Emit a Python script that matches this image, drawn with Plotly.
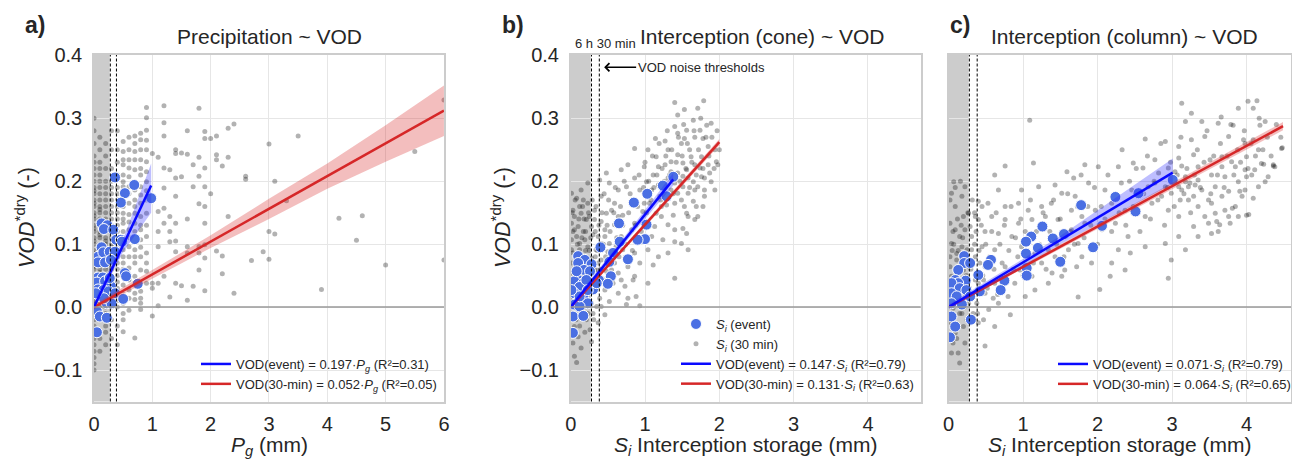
import plotly.graph_objects as go

W, H = 1292, 460
FONT = "Liberation Sans, Arial, sans-serif"
TXT = "#262626"

# ------------------------------------------------------------------ data
# Panel a: precipitation (events)
pg_event = [(0.36,0.206),(0.69,0.194),(0.53,0.181),(0.46,0.166),(0.98,0.173),(0.13,0.133),(0.23,0.130),
            (0.17,0.124),(0.33,0.123),(0.38,0.107),(0.46,0.107),(0.70,0.108),(0.48,0.104),(0.13,0.095),
            (0.07,0.080),(0.16,0.087),(0.27,0.088),(0.36,0.088),(0.07,0.071),(0.19,0.071),(0.29,0.075),
            (0.53,0.054),(0.55,0.049),(0.07,0.047),(0.15,0.047),(0.05,0.039),(0.19,0.041),(0.75,0.037),
            (0.29,0.033),(0.07,0.028),(0.16,0.027),(0.25,0.025),(0.36,0.022),(0.10,0.017),(0.50,0.013),
            (0.22,0.006),(0.30,0.006),(0.05,-0.007),(0.10,-0.015),(0.22,-0.017),(0.05,-0.040),(0.17,0.014),
            (0.03,0.022),(0.27,0.046)]
# Panel a: precipitation (30 min) - quantised columns at 0.1 mm steps
pg_col_x = [0.0, 0.1, 0.2, 0.3, 0.4, 0.5, 0.6, 0.7, 0.8, 0.9]
pg_col_y = [
    [-0.10,-0.09,-0.08,-0.07,-0.06,-0.05,-0.045,-0.03,-0.02,-0.015,0.0,0.005,0.01,0.02,0.025,0.03,0.04,0.045,
     0.05,0.06,0.065,0.07,0.08,0.085,0.09,0.10,0.105,0.11,0.12,0.125,0.13,0.14,0.145,0.15,0.16,0.165,0.17,
     0.18,0.185,0.19,0.20,0.21,0.22,0.23,0.24,0.26,0.28,0.30],
    [-0.07,-0.05,-0.04,-0.02,-0.01,0.0,0.01,0.015,0.02,0.03,0.035,0.04,0.05,0.055,0.06,0.07,0.075,0.08,0.09,
     0.095,0.10,0.11,0.115,0.12,0.13,0.135,0.14,0.15,0.155,0.16,0.17,0.18,0.19,0.20,0.21,0.22,0.23,0.25,0.27],
    [-0.06,-0.04,-0.03,-0.01,0.0,0.015,0.02,0.03,0.04,0.045,0.05,0.06,0.065,0.07,0.08,0.085,0.09,0.10,0.105,
     0.11,0.12,0.125,0.13,0.14,0.15,0.16,0.17,0.18,0.19,0.20,0.22,0.24,0.26],
    [-0.05,-0.02,0.0,0.01,0.02,0.03,0.04,0.05,0.06,0.065,0.07,0.08,0.09,0.095,0.10,0.11,0.12,0.13,0.14,0.15,
     0.16,0.17,0.18,0.19,0.20,0.22,0.25,0.28],
    [-0.06,-0.03,0.0,0.01,0.03,0.04,0.05,0.06,0.07,0.08,0.085,0.09,0.10,0.11,0.12,0.13,0.14,0.15,0.16,0.17,
     0.18,0.19,0.21,0.23,0.25,0.28],
    [0.263,0.247,0.234,0.226,0.210,0.199,0.191,0.181,0.170,0.160,0.149,0.140,0.133,0.120,0.105,0.091,0.080,
     0.070,0.060,0.049,0.035,0.020,0.006,-0.010,-0.020,-0.039],
    [0.270,0.250,0.234,0.221,0.207,0.191,0.180,0.165,0.147,0.135,0.123,0.110,0.096,0.080,0.062,0.043,0.027,
     0.014,-0.005],
    [0.272,0.260,0.247,0.234,0.218,0.199,0.186,0.170,0.160,0.149,0.133,0.120,0.112,0.091,0.080,0.070,0.049,
     0.038,0.022,0.012,-0.049],
    [0.276,0.266,0.250,0.234,0.220,0.210,0.191,0.178,0.165,0.144,0.130,0.123,0.107,0.095,0.080,0.059,0.038,
     0.025,0.014,0.006,-0.004],
    [0.317,0.301,0.281,0.265,0.250,0.231,0.215,0.199,0.185,0.170,0.149,0.130,0.112,0.086,0.070,0.057,0.038],
]
pg_sparse = [(1.2,0.320),(1.8,0.316),(1.2,0.293),(1.6,0.280),(1.9,0.279),(2.4,0.291),(2.3,0.284),(2.1,0.272),
             (2.0,0.268),(1.9,0.268),(1.2,0.272),(1.4,0.250),(1.5,0.245),(1.4,0.244),(1.6,0.243),(1.8,0.238),
             (2.1,0.242),(2.3,0.238),(1.1,0.238),(1.0,0.244),(3.0,0.259),(3.5,0.272),(5.5,0.247),(6.0,0.329),
             (2.6,0.208),(2.6,0.203),(3.1,0.200),(3.3,0.169),(2.1,0.234),(1.9,0.221),(2.2,0.224),(1.7,0.226),
             (1.3,0.218),(1.2,0.221),(1.4,0.205),(1.8,0.208),(1.5,0.207),(2.0,0.180),(1.4,0.176),(1.8,0.164),
             (1.9,0.191),(1.7,0.191),(1.2,0.189),(1.9,0.160),(1.6,0.140),(1.2,0.157),(1.1,0.152),(1.3,0.144),
             (2.3,0.144),(1.9,0.133),(1.4,0.133),(1.2,0.133),(1.3,0.120),(1.1,0.120),(1.1,0.096),(1.3,0.104),
             (1.4,0.105),(1.6,0.096),(1.8,0.096),(1.9,0.099),(2.1,0.089),(2.2,0.081),(1.9,0.078),(1.8,0.086),
             (1.6,0.086),(1.4,0.088),(2.9,0.088),(3.0,0.120),(3.1,0.116),(3.0,0.076),(2.7,0.074),(4.2,0.141),
             (4.6,0.145),(4.5,0.106),(5.0,0.067),(3.9,0.028),(2.4,0.022),(2.2,0.053),(1.9,0.026),(1.8,0.059),
             (1.7,0.033),(1.5,0.034),(1.4,0.038),(1.1,0.038),(1.2,0.049),(1.0,0.038),(1.0,0.030),(1.1,0.002),
             (1.0,-0.014),(1.6,0.011),(1.3,0.016),(6.0,0.075)]

# Panel b: interception storage, cone
si_cone_event = [(1.38,0.207),(1.24,0.193),(1.03,0.180),(1.29,0.176),(0.85,0.166),(1.02,0.131),(0.65,0.133),
                 (1.00,0.108),(0.90,0.107),(0.66,0.104),(0.77,0.076),(0.57,0.086),(0.40,0.095),(0.52,0.072),
                 (0.10,0.081),(0.19,0.075),(0.28,0.068),(0.10,0.070),(0.18,0.059),(0.26,0.057),(0.54,0.049),
                 (0.38,0.043),(0.10,0.043),(0.05,0.041),(0.17,0.038),(0.50,0.037),(0.30,0.028),(0.12,0.032),
                 (0.05,0.022),(0.17,0.017),(0.23,0.006),(0.05,0.004),(0.12,0.001),(0.03,-0.015),(0.17,-0.014),
                 (0.03,-0.041),(0.35,0.038),(0.08,0.057),(0.21,0.043),(0.12,0.017),(0.01,0.027),(0.23,0.027)]
si_cone_30min = [(1.40,0.325),(1.79,0.328),(1.53,0.314),(1.71,0.316),(1.44,0.305),(1.65,0.297),(1.83,0.289),
    (1.89,0.292),(1.56,0.281),(1.40,0.287),(1.14,0.268),(1.27,0.264),(1.67,0.270),(1.78,0.268),(1.49,0.260),
    (1.85,0.255),(1.94,0.250),(1.31,0.250),(1.60,0.250),(1.44,0.242),(1.76,0.239),(1.15,0.239),(0.77,0.226),
    (0.99,0.223),(1.27,0.226),(1.51,0.229),(1.67,0.226),(1.85,0.226),(1.96,0.231),(0.68,0.218),(0.86,0.205),
    (1.11,0.210),(1.44,0.213),(1.58,0.205),(1.76,0.207),(1.89,0.199),(0.52,0.197),(0.64,0.186),(0.75,0.191),
    (0.93,0.186),(1.18,0.194),(1.35,0.186),(1.51,0.191),(1.67,0.186),(1.80,0.186),(0.41,0.176),(0.59,0.165),
    (0.82,0.168),(1.06,0.165),(1.29,0.162),(1.49,0.170),(1.65,0.168),(1.78,0.160),(0.23,0.165),(0.12,0.160),
    (0.32,0.154),(0.48,0.149),(0.70,0.146),(0.97,0.152),(1.15,0.149),(1.38,0.146),(1.56,0.149),(1.71,0.144),
    (0.05,0.144),(0.21,0.139),(0.41,0.136),(0.59,0.131),(0.86,0.133),(1.13,0.128),(1.31,0.131),(1.51,0.125),
    (0.05,0.123),(0.17,0.120),(0.30,0.115),(0.46,0.112),(0.68,0.112),(1.09,0.112),(1.24,0.107),(1.40,0.104),
    (1.58,0.091),(1.31,0.086),(0.01,0.107),(0.12,0.101),(0.23,0.096),(0.34,0.091),(0.50,0.088),(0.70,0.091),
    (0.86,0.086),(1.04,0.091),(1.18,0.080),(0.93,0.070),(1.11,0.067),(0.03,0.086),(0.14,0.080),(0.28,0.078),
    (0.41,0.075),(0.59,0.070),(0.77,0.064),(1.04,0.038),(1.40,0.046),(0.01,0.070),(0.08,0.064),(0.21,0.062),
    (0.35,0.059),(0.48,0.057),(0.64,0.054),(0.86,0.049),(0.01,0.054),(0.12,0.049),(0.23,0.046),(0.39,0.043),
    (0.57,0.038),(0.73,0.033),(0.03,0.038),(0.17,0.033),(0.32,0.030),(0.46,0.027),(0.64,0.022),(0.88,0.017),
    (0.05,0.025),(0.23,0.019),(0.39,0.014),(0.52,0.009),(0.75,0.004),(0.93,0.002),(0.10,0.009),(0.28,0.006),
    (0.41,0.001),(0.14,-0.004),(0.30,-0.010),(0.46,-0.012),(0.03,-0.010),(0.21,-0.020),(0.37,-0.025),
    (0.05,-0.031),(0.26,-0.036),(0.10,-0.047),(0.28,-0.055),(0.03,-0.057),(0.14,-0.065),(0.05,-0.078),
    (0.08,-0.088),(0.01,0.181),(0.08,0.173),(0.17,0.170),(0.39,0.202),(0.48,0.213),(0.23,0.197),(0.14,0.186),
    (0.55,0.154),(0.32,0.139),(0.64,0.144),(0.99,0.165),(0.82,0.123),(1.22,0.144),(1.04,0.133),(1.40,0.123),
    (1.67,0.139),(1.80,0.176),(1.94,0.186),(1.20,0.176),(1.40,0.165),(1.31,0.205),(1.18,0.223),(1.02,0.199),
    (1.56,0.218),(1.71,0.191),(1.87,0.213),(1.98,0.226),(1.53,0.268),(1.44,0.276),(1.74,0.281),(1.35,0.231),
    (1.04,0.250),(0.86,0.252),(1.56,0.117),(1.49,0.101),(0.77,0.014),(0.84,0.043),(1.31,0.176),(1.44,0.181),
    (1.58,0.181),(1.51,0.208),(1.65,0.199),(1.40,0.197),(1.74,0.221),(1.80,0.205),(1.62,0.239),(1.35,0.215),
    (1.24,0.191),(1.53,0.160),(1.69,0.160),(1.58,0.144),(1.09,0.186),(1.22,0.160),(0.01,0.091),(0.08,0.112),
    (0.19,0.107),(0.12,0.091),(0.21,0.078),(0.37,0.070),(0.01,0.133),(0.10,0.128),(0.28,0.128),(0.37,0.112),
    (0.03,0.154),(0.14,0.149),(0.25,0.144),(0.46,0.123),(0.52,0.101),(0.61,0.096),(0.41,0.101),(0.55,0.059),
    (0.68,0.043),(0.46,0.043),(0.32,0.059),(0.19,0.019),(0.01,0.012),(0.10,0.001),(0.23,-0.010),(0.35,0.001)]
si_cone_30min_extra = [(0.02,0.02),(0.06,0.06),(0.09,0.10),(0.11,0.14),(0.13,0.03),(0.15,0.11),(0.16,0.16),
    (0.18,0.08),(0.20,0.12),(0.22,0.05),(0.24,0.15),(0.25,0.09),(0.27,0.11),(0.29,0.17),(0.31,0.07),(0.33,0.12),
    (0.34,0.16),(0.36,0.09),(0.38,0.13),(0.40,0.06),(0.42,0.15),(0.44,0.10),(0.45,0.18),(0.47,0.08),(0.49,0.13),
    (0.51,0.17),(0.53,0.12),(0.56,0.09),(0.58,0.15),(0.60,0.19),(0.62,0.11),(0.65,0.08),(0.67,0.16),(0.70,0.13),
    (0.72,0.20),(0.74,0.10),(0.78,0.15),(0.80,0.18),(0.83,0.09),(0.87,0.13),(0.90,0.16),(0.92,0.21),(0.95,0.12),
    (0.98,0.19),(1.00,0.23),(1.02,0.15),(1.05,0.20),(1.08,0.17),(1.10,0.24),(1.12,0.19),(1.16,0.21),(1.19,0.26),
    (1.21,0.17),(1.23,0.22),(1.26,0.20),(1.28,0.24),(1.30,0.28),(1.33,0.21),(1.36,0.25),(1.38,0.18),(1.42,0.23),
    (1.45,0.27),(1.47,0.20),(1.50,0.24),(1.52,0.29),(1.55,0.22),(1.57,0.26),(1.60,0.19),(1.63,0.23),(1.66,0.28),
    (1.69,0.21),(1.72,0.25),(1.75,0.30),(1.78,0.22),(1.82,0.27),(1.86,0.24),(1.90,0.27),(1.93,0.22),(1.97,0.28),
    (2.00,0.25),(0.04,0.00),(0.07,-0.02),(0.12,-0.03),(0.16,0.00),(0.19,-0.04),(0.26,0.01),(0.31,-0.02),
    (0.06,0.17),(0.03,0.12),(0.18,0.14),(0.11,0.06),(0.09,0.02),(0.20,0.09),(0.27,0.04),(0.33,0.08),(0.36,0.04),
    (0.43,0.06),(0.05,0.07),(0.15,0.05),(0.02,0.15)]

# Panel c: interception storage, column
si_col_event = [(3.01,0.202),(2.55,0.181),(2.24,0.175),(1.78,0.162),(2.51,0.152),(2.06,0.129),(1.55,0.116),
                (1.40,0.109),(1.26,0.128),(1.11,0.112),(1.04,0.104),(1.20,0.094),(1.94,0.095),(1.50,0.072),
                (1.04,0.085),(1.05,0.062),(1.05,0.050),(0.57,0.075),(0.53,0.067),(0.75,0.042),(0.70,0.027),
                (0.40,0.051),(0.42,0.025),(0.30,-0.020),(0.21,0.081),(0.21,0.070),(0.13,0.059),(0.29,0.070),
                (0.09,0.043),(0.23,0.042),(0.13,0.038),(0.04,0.038),(0.15,0.030),(0.04,0.022),(0.24,0.027),
                (0.11,0.017),(0.29,0.017),(0.04,0.006),(0.18,0.004),(0.04,-0.015),(0.09,-0.031),(0.02,-0.048)]
si_col_30min = [(3.13,0.324),(4.14,0.328),(3.66,0.302),(3.89,0.316),(3.26,0.308),(3.18,0.295),(3.40,0.295),
    (3.62,0.292),(3.82,0.289),(4.25,0.295),(1.09,0.297),(2.64,0.267),(2.91,0.263),(3.09,0.255),(3.26,0.266),
    (3.44,0.271),(3.76,0.271),(3.98,0.260),(4.16,0.250),(4.48,0.253),(2.77,0.234),(3.09,0.237),(3.29,0.242),
    (3.51,0.234),(3.67,0.239),(3.80,0.231),(4.00,0.239),(4.20,0.228),(4.36,0.226),(1.83,0.226),(2.01,0.223),
    (2.28,0.223),(2.48,0.229),(2.61,0.221),(0.76,0.224),(1.14,0.229),(0.62,0.210),(1.59,0.215),(1.68,0.205),
    (2.82,0.213),(3.04,0.215),(3.18,0.207),(3.35,0.202),(3.53,0.210),(3.71,0.207),(3.89,0.199),(4.07,0.210),
    (4.25,0.199),(3.09,0.191),(3.24,0.197),(3.40,0.186),(3.58,0.191),(3.76,0.184),(3.94,0.176),(4.09,0.173),
    (3.22,0.170),(3.35,0.160),(3.53,0.165),(3.71,0.154),(3.89,0.144),(4.03,0.147),(2.86,0.176),(2.73,0.165),
    (2.95,0.154),(3.09,0.144),(3.29,0.128),(3.49,0.133),(3.62,0.120),(3.35,0.112),(3.09,0.112),(2.91,0.101),
    (3.18,0.091),(2.99,0.075),(2.95,0.046),(2.41,0.112),(2.64,0.096),(2.44,0.086),(2.28,0.091),(2.17,0.049),
    (2.03,0.028),(1.74,0.016),(2.37,0.059),(2.19,0.070),(1.92,0.070),(1.72,0.064),(1.52,0.049),(1.34,0.038),
    (1.16,0.027),(1.03,0.017),(0.83,-0.012),(0.62,-0.031),(0.49,-0.062),(0.40,-0.025),(0.22,-0.057),
    (0.15,-0.089),(0.04,-0.073),(0.09,-0.041),(2.10,0.186),(1.88,0.197),(2.32,0.197),(2.46,0.186),(2.68,0.191),
    (2.19,0.165),(2.37,0.154),(2.64,0.144),(1.97,0.154),(1.79,0.144),(1.65,0.154),(1.52,0.181),(1.38,0.165),
    (1.25,0.160),(1.07,0.154),(0.94,0.165),(0.76,0.160),(0.53,0.165),(0.40,0.168),(0.67,0.186),(0.98,0.186),
    (1.21,0.191),(1.43,0.194),(1.70,0.176),(1.83,0.133),(2.06,0.123),(2.24,0.133),(1.65,0.123),(1.47,0.139),
    (1.30,0.144),(1.12,0.139),(0.94,0.133),(0.76,0.139),(0.58,0.144),(0.40,0.139),(0.27,0.149),(0.49,0.120),
    (0.67,0.117),(0.85,0.112),(0.98,0.096),(1.16,0.086),(1.34,0.091),(1.25,0.070),(1.43,0.080),(1.61,0.091),
    (1.74,0.101),(1.79,0.080),(1.56,0.059),(1.39,0.054),(1.12,0.049),(0.89,0.038),(0.76,0.064),(0.62,0.091),
    (0.45,0.096),(0.31,0.112),(0.22,0.123),(0.36,0.080),(0.49,0.064),(0.62,0.038),(0.49,0.022),(0.38,0.006),
    (0.54,-0.004),(0.47,-0.020),(0.67,0.006),(0.80,0.017),(0.96,0.059),(0.22,0.038),(0.36,0.043),(0.27,0.006),
    (0.33,-0.010),(0.02,0.133),(0.09,0.123),(0.04,0.101),(0.18,0.096),(0.02,0.080),(0.11,0.075),(0.20,0.059),
    (0.02,0.064),(0.04,0.049),(0.18,0.027),(0.06,-0.002),(0.15,-0.010),(0.02,-0.025),(0.20,-0.031),
    (0.06,-0.057),(0.13,-0.073),(0.09,0.160),(0.18,0.176),(0.04,0.181),(0.22,0.191),(0.07,0.199),(0.20,0.144),
    (0.29,0.128),(0.36,0.144),(0.45,0.160),(0.31,0.091),(0.42,0.070),(0.15,0.112),(0.25,0.091),(0.11,0.085),
    (0.27,0.064),(0.40,0.038),(0.38,0.022),(0.60,0.014),(0.47,0.043),(3.18,0.199),(3.22,0.191),(3.31,0.194),
    (3.13,0.186),(3.29,0.176),(3.11,0.170),(2.99,0.181),(2.91,0.191),(2.77,0.197),(2.95,0.221),(3.13,0.224),
    (3.35,0.223),(3.49,0.170),(3.67,0.176),(3.85,0.160),(3.76,0.144),(3.58,0.149),(3.44,0.144),(3.98,0.186),
    (4.16,0.191),(4.29,0.207),(4.38,0.223),(3.98,0.218),(3.85,0.223),(3.67,0.223),(4.02,0.327),(4.09,0.316),
    (4.18,0.289),(4.47,0.252),(4.36,0.224),(4.23,0.227),(4.11,0.218),(4.00,0.207),(3.91,0.184),(4.00,0.146),
    (3.78,0.133),(3.81,0.157),(3.53,0.117),(3.64,0.131),(3.60,0.136),(4.09,0.266),(3.96,0.266)]
si_col_30min_extra = [(0.03,0.03),(0.05,0.09),(0.08,0.01),(0.10,0.05),(0.12,0.14),(0.14,0.02),(0.16,0.07),
    (0.19,0.11),(0.21,0.00),(0.23,0.08),(0.26,0.15),(0.28,0.03),(0.30,0.06),(0.32,0.17),(0.35,0.10),(0.37,0.12),
    (0.39,-0.01),(0.41,0.09),(0.44,0.13),(0.46,0.05),(0.50,0.10),(0.52,0.03),(0.55,0.08),(0.58,0.12),(0.61,0.06),
    (0.64,0.15),(0.66,0.02),(0.69,0.10),(0.72,0.07),(0.75,0.13),(0.78,0.04),(0.81,0.09),(0.84,0.16),(0.87,0.06),
    (0.90,0.11),(0.93,0.08),(0.97,0.14),(1.00,0.05),(1.03,0.12),(1.06,0.09),(1.10,0.17),(1.14,0.07),(1.18,0.12),
    (1.22,0.10),(1.27,0.15),(1.31,0.06),(1.36,0.12),(1.41,0.17),(1.45,0.10),(1.50,0.14),(1.55,0.08),(1.60,0.18),
    (1.64,0.12),(1.69,0.10),(1.73,0.16),(1.78,0.21),(1.82,0.11),(1.87,0.16),(1.91,0.13),(1.96,0.19),(2.00,0.10),
    (2.05,0.16),(2.10,0.14),(2.14,0.21),(2.19,0.12),(2.24,0.18),(2.29,0.15),(2.33,0.25),(2.38,0.13),(2.43,0.20),
    (2.48,0.16),(2.52,0.22),(2.57,0.12),(2.62,0.18),(2.67,0.24),(2.71,0.14),(2.76,0.20),(2.81,0.17),(2.85,0.26),
    (2.90,0.13),(2.94,0.19),(2.98,0.23),(3.03,0.16),(3.07,0.21),(3.12,0.27),(3.16,0.18),(3.20,0.22),(3.25,0.15),
    (3.30,0.21),(3.34,0.25),(3.38,0.19),(3.43,0.23),(3.47,0.28),(3.52,0.18),(3.56,0.24),(3.61,0.21),(3.65,0.26),
    (3.70,0.19),(3.74,0.24),(3.79,0.29),(3.83,0.21),(3.88,0.25),(3.92,0.23),(3.97,0.28),(4.02,0.22),(4.06,0.26),
    (4.12,0.24),(4.17,0.30),(4.22,0.25),(4.28,0.27),(4.33,0.24),(4.40,0.29),(4.46,0.27),(0.07,0.10),(0.13,0.09),
    (0.17,0.13),(0.24,0.05),(0.06,0.12),(0.18,-0.01),(0.11,-0.05),(0.25,-0.02),(0.31,0.02),(0.35,0.15),
    (0.02,0.17),(0.09,0.19),(0.16,0.20)]

# Regression fits (slope through origin, fitted x-extent) and confidence bands
slopes = {"a": (0.197, 0.052), "b": (0.147, 0.131), "c": (0.071, 0.064)}
fit_xmax = {"a": (0.98, 6.0), "b": (1.38, 2.0), "c": (3.01, 4.49)}
r2 = {"a": (0.31, 0.05), "b": (0.79, 0.63), "c": (0.79, 0.65)}

band_a_event_x = [0, 0.5, 0.98];  band_a_event_lo = [-0.004, 0.088, 0.150]; band_a_event_hi = [0.008, 0.108, 0.228]
band_a_30_x = [0, 1, 2, 3, 4, 5, 6]
band_a_30_lo = [-0.004, 0.045, 0.094, 0.140, 0.188, 0.231, 0.272]
band_a_30_hi = [0.004, 0.059, 0.114, 0.172, 0.228, 0.289, 0.352]
band_b_event_x = [0, 0.7, 1.38]; band_b_event_lo = [-0.005, 0.098, 0.193]; band_b_event_hi = [0.005, 0.108, 0.213]
band_b_30_x = [0, 2.0];          band_b_30_lo = [-0.002, 0.257];           band_b_30_hi = [0.002, 0.267]
band_c_event_x = [0, 1.5, 3.01]; band_c_event_lo = [-0.004, 0.100, 0.196]; band_c_event_hi = [0.004, 0.113, 0.236]
band_c_30_x = [0, 4.49];         band_c_30_lo = [-0.002, 0.281];           band_c_30_hi = [0.002, 0.294]

noise_shade = 0.27
noise_thresholds = [0.28, 0.385]

x_ranges = {"a": [0, 6.001], "b": [0, 4.71], "c": [0, 4.597]}
x_ticks = {"a": [0, 1, 2, 3, 4, 5, 6], "b": [0, 1, 2, 3, 4], "c": [0, 1, 2, 3, 4]}
y_range = [-0.15, 0.4005]
y_ticks = [-0.1, 0.0, 0.1, 0.2, 0.3, 0.4]

titles = {"a": "Precipitation ~ VOD", "b": "Interception (cone) ~ VOD", "c": "Interception (column) ~ VOD"}
var_lbl = {"a": "<i>P<sub>g</sub></i>", "b": "<i>S<sub>i</sub></i>", "c": "<i>S<sub>i</sub></i>"}
x_titles = {"a": "<i>P<sub>g</sub></i> (mm)",
            "b": "<i>S<sub>i</sub></i> Interception storage (mm)",
            "c": "<i>S<sub>i</sub></i> Interception storage (mm)"}
y_title = "<i>VOD</i><sup>*dry</sup> (-)"

# ------------------------------------------------------------------ layout geometry (px)
plot_px = {"a": (94, 444), "b": (570.7, 920.7), "c": (948.5, 1291)}
top_px, bot_px = 55, 401.5

BLUE_PT = "#4a6fe3"
GREY_PT = "rgba(0,0,0,0.30)"
BLUE_LN = "#0a0aff"
RED_LN = "#d62728"
BLUE_BAND = "rgba(40,40,255,0.30)"
RED_BAND = "rgba(214,39,40,0.30)"

fig = go.Figure()
panels = ["a", "b", "c"]
axn = {"a": "", "b": "2", "c": "3"}
leg = {"a": "legend", "b": "legend2", "c": "legend3"}

def unzip(pairs):
    return [p[0] for p in pairs], [p[1] for p in pairs]

grey_data = {}
gx, gy = [], []
for cx, col in zip(pg_col_x, pg_col_y):
    gx += [cx] * len(col)
    gy += col
sx, sy = unzip(pg_sparse)
grey_data["a"] = (gx + sx, gy + sy)
grey_data["b"] = unzip(si_cone_30min + si_cone_30min_extra)
grey_data["c"] = unzip(si_col_30min + si_col_30min_extra)
event_data = {"a": unzip(pg_event), "b": unzip(si_cone_event), "c": unzip(si_col_event)}
bands = {
    "a": ((band_a_event_x, band_a_event_lo, band_a_event_hi), (band_a_30_x, band_a_30_lo, band_a_30_hi)),
    "b": ((band_b_event_x, band_b_event_lo, band_b_event_hi), (band_b_30_x, band_b_30_lo, band_b_30_hi)),
    "c": ((band_c_event_x, band_c_event_lo, band_c_event_hi), (band_c_30_x, band_c_30_lo, band_c_30_hi)),
}

for p in panels:
    xa, ya = "x" + axn[p], "y" + axn[p]
    show_pts = (p == "b")
    gxs, gys = grey_data[p]
    fig.add_trace(go.Scatter(x=gxs, y=gys, mode="markers", xaxis=xa, yaxis=ya,
                             marker=dict(size=5, color=GREY_PT, line=dict(width=0)),
                             name="<i>S<sub>i</sub></i> (30 min)", showlegend=show_pts,
                             legend=leg[p], legendrank=2, hoverinfo="skip"))
    exs, eys = event_data[p]
    fig.add_trace(go.Scatter(x=exs, y=eys, mode="markers", xaxis=xa, yaxis=ya,
                             marker=dict(size=11, color=BLUE_PT, line=dict(width=1, color="white")),
                             name="<i>S<sub>i</sub></i> (event)", showlegend=show_pts,
                             legend=leg[p], legendrank=1, hoverinfo="skip"))
    (bex, belo, behi), (b3x, b3lo, b3hi) = bands[p]
    s_ev, s_30 = slopes[p]
    xm_ev, xm_30 = fit_xmax[p]
    r_ev, r_30 = r2[p]
    fig.add_trace(go.Scatter(x=b3x, y=b3lo, mode="lines", line=dict(width=0), xaxis=xa, yaxis=ya,
                             showlegend=False, hoverinfo="skip"))
    fig.add_trace(go.Scatter(x=b3x, y=b3hi, mode="lines", line=dict(width=0), fill="tonexty",
                             fillcolor=RED_BAND, xaxis=xa, yaxis=ya, showlegend=False, hoverinfo="skip"))
    fig.add_trace(go.Scatter(x=[0, xm_30], y=[0, s_30 * xm_30], mode="lines", xaxis=xa, yaxis=ya,
                             line=dict(color=RED_LN, width=2.5),
                             name=f"VOD(30-min) = {s_30:.3f}·{var_lbl[p]} (R²={r_30:.2f})",
                             legend=leg[p], legendrank=4, hoverinfo="skip"))
    fig.add_trace(go.Scatter(x=bex, y=belo, mode="lines", line=dict(width=0), xaxis=xa, yaxis=ya,
                             showlegend=False, hoverinfo="skip"))
    fig.add_trace(go.Scatter(x=bex, y=behi, mode="lines", line=dict(width=0), fill="tonexty",
                             fillcolor=BLUE_BAND, xaxis=xa, yaxis=ya, showlegend=False, hoverinfo="skip"))
    fig.add_trace(go.Scatter(x=[0, xm_ev], y=[0, s_ev * xm_ev], mode="lines", xaxis=xa, yaxis=ya,
                             line=dict(color=BLUE_LN, width=2.5),
                             name=f"VOD(event) = {s_ev:.3f}·{var_lbl[p]} (R²={r_ev:.2f})",
                             legend=leg[p], legendrank=3, hoverinfo="skip"))

layout = dict(width=W, height=H, margin=dict(l=0, r=0, t=0, b=0, autoexpand=False),
              paper_bgcolor="white", plot_bgcolor="white",
              font=dict(family=FONT, color=TXT, size=18), showlegend=True)

ydom = [1 - bot_px / H, 1 - top_px / H]
for p in panels:
    x0, x1 = plot_px[p]
    layout["xaxis" + axn[p]] = dict(domain=[x0 / W, x1 / W], range=x_ranges[p], tickvals=x_ticks[p],
                                    showgrid=True, gridcolor="#e6e6e6", gridwidth=1, zeroline=False,
                                    showline=True, mirror=True, linecolor="#cccccc", linewidth=1.5,
                                    ticks="", tickfont=dict(size=20, color=TXT), anchor="y" + axn[p],
                                    ticklabelstandoff=4, automargin=False)
    layout["yaxis" + axn[p]] = dict(domain=ydom, range=y_range, tickvals=y_ticks, tickformat=".1f",
                                    showgrid=True, gridcolor="#e6e6e6", gridwidth=1, zeroline=False,
                                    showline=True, mirror=True, linecolor="#cccccc", linewidth=1.5,
                                    ticks="", tickfont=dict(size=20, color=TXT), anchor="x" + axn[p],
                                    showticklabels=(p != "c"), ticklabelstandoff=6, automargin=False)

legend_right = {"a": 442, "b": 919, "c": 1296}
for p in panels:
    layout[leg[p]] = dict(x=legend_right[p] / W, xanchor="right", y=1 - 399 / H, yanchor="bottom",
                          bgcolor="rgba(0,0,0,0)", font=dict(size=13, color=TXT), itemwidth=30,
                          traceorder="normal")
fig.update_layout(**layout)

shapes = []
for p in panels:
    xa, ya = "x" + axn[p], "y" + axn[p]
    shapes.append(dict(type="rect", xref=xa, yref=ya + " domain", x0=0, x1=noise_shade, y0=0, y1=1,
                       fillcolor="#cccccc", line=dict(width=0), layer="below"))
    for t in noise_thresholds:
        shapes.append(dict(type="line", xref=xa, yref=ya + " domain", x0=t, x1=t, y0=0, y1=1,
                           line=dict(color="black", width=1, dash="3px,2px")))
    shapes.append(dict(type="line", xref=xa + " domain", yref=ya, x0=0, x1=1, y0=0, y1=0,
                       line=dict(color="#999999", width=1.5)))
fig.update_layout(shapes=shapes)

ann = []
title_cx = {"a": 269, "b": 762, "c": 1124}
lbl_cx = {"a": 35, "b": 513, "c": 960}
for p in panels:
    x0, x1 = plot_px[p]
    ann.append(dict(text=titles[p], x=title_cx[p] / W, y=1 - 36 / H, xref="paper", yref="paper",
                    showarrow=False, font=dict(size=21, color=TXT), xanchor="center", yanchor="middle"))
    ann.append(dict(text=f"<b>{p})</b>", x=lbl_cx[p] / W, y=1 - 25 / H, xref="paper", yref="paper",
                    showarrow=False, font=dict(size=23, color=TXT), xanchor="center", yanchor="middle"))
    ann.append(dict(text=x_titles[p], x=(x0 + x1) / 2 / W, y=1 - 446 / H, xref="paper", yref="paper",
                    showarrow=False, font=dict(size=21, color=TXT), xanchor="center", yanchor="middle"))
for p, xc in (("a", 25), ("b", 501)):
    ann.append(dict(text=y_title, x=xc / W, y=1 - 218 / H, xref="paper", yref="paper", textangle=-90,
                    showarrow=False, font=dict(size=21.5, color=TXT), xanchor="center", yanchor="middle"))
ann.append(dict(text="6 h 30 min", x=605 / W, y=1 - 43 / H, xref="paper", yref="paper", showarrow=False,
                font=dict(size=13, color=TXT), xanchor="center", yanchor="middle"))
ann.append(dict(text="VOD noise thresholds", x=0.45, y=0.381, xref="x2", yref="y2", showarrow=True,
                ax=97, ay=0, arrowhead=4, arrowsize=1.2, arrowwidth=1.3, arrowcolor="black",
                font=dict(size=13, color=TXT)))
fig.update_layout(annotations=ann)

fig.write_html("out.html", config={"displayModeBar": False},
               post_script="document.body.style.margin='0';document.body.style.overflow='hidden';")
